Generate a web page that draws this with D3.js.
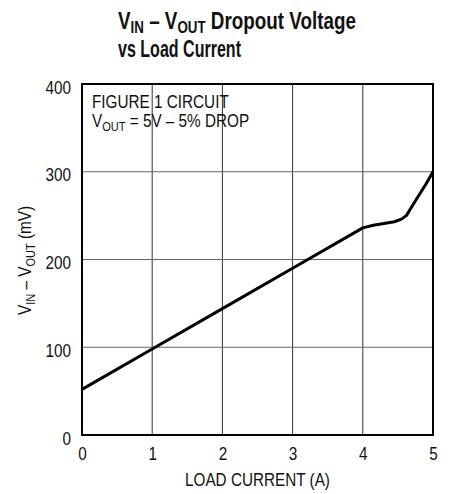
<!DOCTYPE html>
<html>
<head>
<meta charset="utf-8">
<script src="https://cdn.jsdelivr.net/npm/d3@7"></script>
<style>
  body { margin: 0; background: #fff; }
  svg text { font-family: "Liberation Sans", Arial, sans-serif; fill: #111; }
</style>
</head>
<body>
<div id="chart-area"></div>
<script>
// values
var current = [0, 1, 2, 3, 4, 4.15, 4.3, 4.45, 4.55, 4.62, 4.75, 4.9, 5];
var dropout = [52, 98, 144, 190, 236, 239, 241, 243, 246, 250, 267, 286, 300];
var xTicks = [0, 1, 2, 3, 4, 5];
var yTicks = [0, 100, 200, 300, 400];

var data = current.map(function (c, i) {
  return { x: c, y: dropout[i] };
});

var narrow = 0.85; // squeeze to look like a condensed face

var margin = { left: 82, right: 17, top: 84, bottom: 59 };
var width = 450 - margin.left - margin.right;
var height = 494 - margin.top - margin.bottom;

var xscale = d3.scaleLinear().domain([0, 5]).range([0, width]);
var yscale = d3.scaleLinear().domain([0, 400]).range([height, 0]);

var svg = d3
  .select("#chart-area")
  .append("svg")
  .attr("width", 450)
  .attr("height", 494);

function narrowText(parent, x, y, size) {
  return parent
    .append("g")
    .attr("transform", "translate(" + x + "," + y + ") scale(" + narrow + ",1)")
    .append("text")
    .attr("font-size", size + "px");
}

// squeeze a text so it spans a given width
function fitWidth(t, x, y, w) {
  var bw = t.node().getComputedTextLength();
  d3.select(t.node().parentNode)
    .attr("transform", "translate(" + x + "," + y + ") scale(" + (w / bw) + ",1)");
}

// text with subscript parts: parts = [[text, isSub], ...]
function addParts(t, parts, subSize, drop) {
  var down = false;
  parts.forEach(function (p) {
    var ts = t.append("tspan").text(p[0]);
    if (p[1]) {
      ts.attr("font-size", subSize + "px");
      if (!down) { ts.attr("dy", drop); down = true; }
    } else if (down) {
      ts.attr("dy", -drop);
      down = false;
    }
  });
}

// title
var title = narrowText(svg, 118, 29, 24).attr("font-weight", "bold");
addParts(title, [["V"], ["IN", 1], [" – V"], ["OUT", 1], [" Dropout Voltage"]], 17, 4);
fitWidth(title, 118, 29, 238);
var title2 = narrowText(svg, 118, 57, 24).attr("font-weight", "bold").text("vs Load Current");
fitWidth(title2, 118, 57, 123);

var g = svg
  .append("g")
  .attr("transform", "translate(" + margin.left + "," + margin.top + ")");

// grid
g.selectAll(".vgrid")
  .data(xTicks)
  .enter()
  .append("line")
  .attr("x1", function (d) { return xscale(d); })
  .attr("x2", function (d) { return xscale(d); })
  .attr("y1", 0)
  .attr("y2", height)
  .attr("stroke", "#333")
  .attr("stroke-width", 1);

g.selectAll(".hgrid")
  .data(yTicks)
  .enter()
  .append("line")
  .attr("x1", 0)
  .attr("x2", width)
  .attr("y1", function (d) { return yscale(d); })
  .attr("y2", function (d) { return yscale(d); })
  .attr("stroke", "#666")
  .attr("stroke-width", 1);

// frame
g.append("rect")
  .attr("x", 0)
  .attr("y", 0)
  .attr("width", width)
  .attr("height", height)
  .attr("fill", "none")
  .attr("stroke", "#000")
  .attr("stroke-width", 2);

// axes (labels only)
var xAxis = d3.axisBottom(xscale).tickValues(xTicks).tickFormat(d3.format("d")).tickSize(0).tickPadding(12);
g.append("g")
  .attr("class", "x-axis")
  .attr("transform", "translate(0," + height + ")")
  .call(xAxis)
  .call(function (s) { s.select(".domain").remove(); })
  .selectAll("text")
  .attr("font-size", "18px")
  .attr("transform", "scale(" + narrow + ",1)");

var yAxis = d3.axisLeft(yscale).tickValues(yTicks).tickFormat(d3.format("d")).tickSize(0).tickPadding(11);
g.append("g")
  .attr("class", "y-axis")
  .call(yAxis)
  .call(function (s) { s.select(".domain").remove(); })
  .selectAll("text")
  .attr("font-size", "18px")
  .attr("dy", "0.5em")
  .attr("x", -11 / narrow)
  .attr("transform", "scale(" + narrow + ",1)");

svg.selectAll(".x-axis, .y-axis").attr("font-family", null);
svg.selectAll(".tick text").attr("fill", "#111");

// axis titles
narrowText(g, width / 2, height + 51, 18)
  .attr("text-anchor", "middle")
  .text("LOAD CURRENT (A)");

var ylab = g.append("g")
  .attr("transform", "translate(-51," + (height / 2 + 1) + ") rotate(-90) scale(" + narrow + ",1)")
  .append("text")
  .attr("font-size", "18px")
  .attr("text-anchor", "middle");
addParts(ylab, [["V"], ["IN", 1], [" – V"], ["OUT", 1], [" (mV)"]], 13, 4);

// annotation
narrowText(g, 10, 24, 18).text("FIGURE 1 CIRCUIT");
var ann = narrowText(g, 10, 43, 18);
addParts(ann, [["V"], ["OUT", 1], ["  = 5V – 5% DROP"]], 13, 4);

// curve
var line = d3
  .line()
  .x(function (d) { return xscale(d.x); })
  .y(function (d) { return yscale(d.y); });

g.append("path")
  .datum(data)
  .attr("d", line)
  .attr("fill", "none")
  .attr("stroke", "#000")
  .attr("stroke-width", 3)
  .attr("stroke-linejoin", "round");
</script>
</body>
</html>
